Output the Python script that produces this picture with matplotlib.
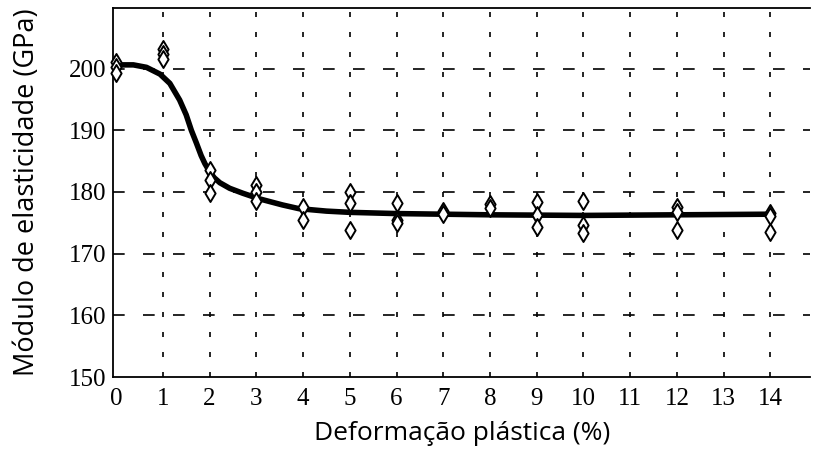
import matplotlib.pyplot as plt

# measured points (deformacao %, modulo GPa)
pts_x = [0, 0, 0,
         1, 1, 1,
         2, 2, 2,
         3, 3, 3,
         4, 4,
         5, 5, 5,
         6, 6, 6,
         7, 7,
         8, 8,
         9, 9, 9,
         10, 10, 10,
         12, 12, 12,
         14, 14, 14]
pts_y = [201.0, 200.2, 199.3,
         203.2, 202.3, 201.6,
         183.6, 181.9, 179.8,
         181.1, 180.0, 178.6,
         177.6, 175.4,
         180.0, 178.2, 173.9,
         178.2, 175.4, 175.0,
         176.9, 176.5,
         178.0, 177.4,
         178.3, 176.3, 174.3,
         178.6, 174.7, 173.4,
         177.5, 176.8, 173.9,
         176.6, 176.1, 173.5]

# fitted curve
curve_x = [0, 0.37, 0.65, 0.94, 1.15, 1.36, 1.50, 1.61, 1.72, 1.82, 1.90,
           2.0, 2.1, 2.22, 2.43, 2.71, 3.06, 3.56, 3.91, 4.5, 5, 6, 7, 8,
           10, 12, 14]
curve_y = [200.6, 200.6, 200.2, 199.1, 197.6, 194.9, 192.5, 190.0, 187.9,
           185.9, 184.6, 183.3, 182.3, 181.5, 180.6, 179.8, 178.9, 177.9,
           177.3, 176.9, 176.7, 176.5, 176.4, 176.3, 176.2, 176.3, 176.4]

xticks = list(range(0, 15))
yticks = [150, 160, 170, 180, 190, 200]

fig = plt.figure(figsize=(8.15, 4.5), dpi=100)
ax = fig.add_axes([0.139, 0.162, 0.855, 0.82])

# grid, drawn as short dashes like the scan
for xv in xticks[1:]:
    ax.axvline(xv, color='black', lw=1.2, dashes=(3, 9), zorder=1)
for yv in yticks[1:]:
    ax.axhline(yv, color='black', lw=1.2, dashes=(7, 11), zorder=1)

ax.plot(curve_x, curve_y, color='black', lw=4, solid_capstyle='round',
        solid_joinstyle='round', zorder=3)
ax.scatter(pts_x, pts_y, marker='d', s=75, facecolors='white',
           edgecolors='black', linewidths=1.4, zorder=4, clip_on=False)

ax.set_xlim(-0.06, 14.85)
ax.set_ylim(150, 209.8)
ax.set_xticks(xticks)
ax.set_yticks(yticks)
ax.set_xticklabels([str(v) for v in xticks], family='Liberation Serif',
                   fontsize=18)
ax.set_yticklabels([str(v) for v in yticks], family='Liberation Serif',
                   fontsize=18)
ax.tick_params(axis='x', length=0, pad=8)
ax.tick_params(axis='y', length=0, pad=5)

ax.spines['right'].set_visible(False)
for s in ['left', 'bottom', 'top']:
    ax.spines[s].set_linewidth(1.3)

ax.set_xlabel('Deformação plástica (%)', family='Open Sans', fontsize=19,
              labelpad=8)
ax.set_ylabel('Módulo de elasticidade (GPa)', family='Open Sans', fontsize=19.5,
              labelpad=20)

fig.savefig('out.png', dpi=100)
